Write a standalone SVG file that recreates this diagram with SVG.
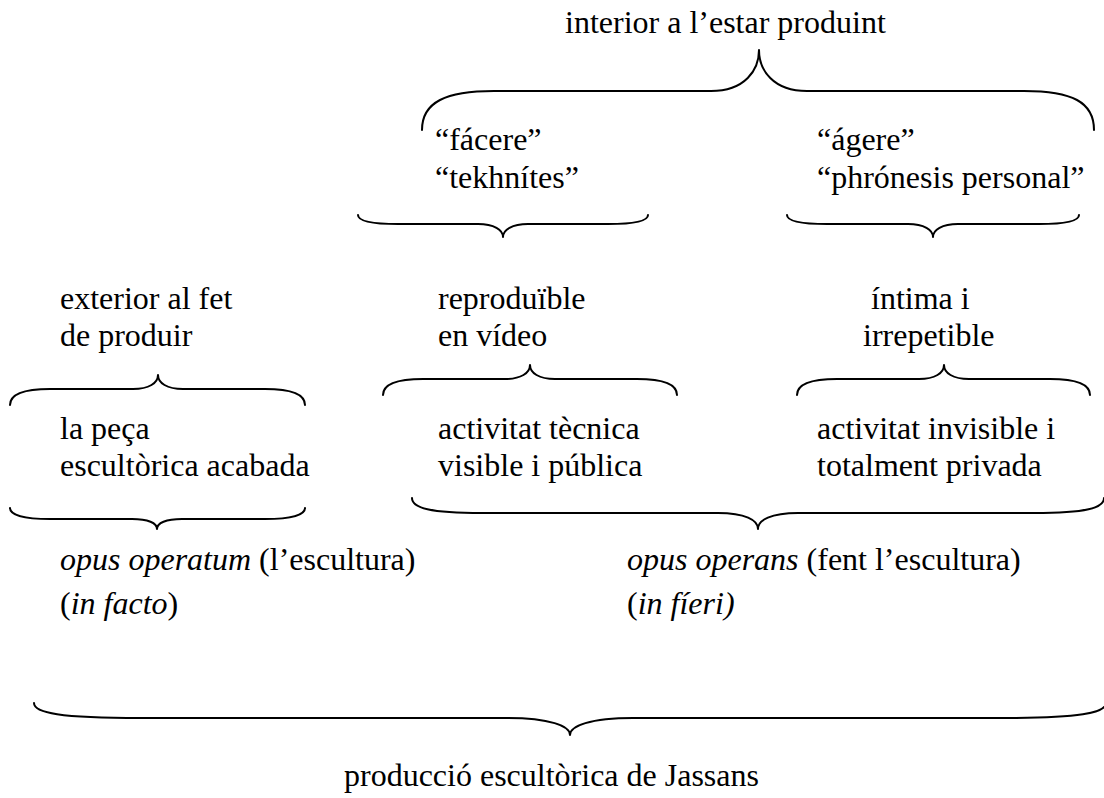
<svg xmlns="http://www.w3.org/2000/svg" width="1104" height="798" viewBox="0 0 1104 798">
<style>
.t{font-family:"Liberation Serif","Times New Roman",serif;font-size:32px;fill:#000}
.i{font-style:italic}
.b{fill:none;stroke:#000;stroke-width:2;stroke-linecap:round;stroke-linejoin:round}
</style>
<rect width="1104" height="798" fill="#fff"/>
<g id="connectors">
<path class="b" d="M422,130 C422,102 446,91 494,91 L711,91 C745,91 759,70 759,50 C759,70 773,91 807,91 L1024,91 C1072,91 1094,102 1094,130"/>
<path class="b" d="M358,215 C358,221 372,224 398,224 L478,224 C494,224 503,230 503,237 C503,230 512,224 528,224 L608,224 C634,224 648,221 648,215"/>
<path class="b" d="M787,215 C787,221 801,224 827,224 L908,224 C924,224 933,230 933,237 C933,230 942,224 958,224 L1039,224 C1065,224 1079,221 1079,215"/>
<path class="b" d="M10,405 C10,394 24,389 50,389 L133,389 C149,389 158,383 158,375 C158,383 167,389 183,389 L265,389 C291,389 305,394 305,405"/>
<path class="b" d="M383,395 C383,384 397,379 423,379 L505,379 C521,379 530,373 530,365 C530,373 539,379 555,379 L637,379 C663,379 677,384 677,395"/>
<path class="b" d="M797,395 C797,384 811,379 837,379 L919,379 C935,379 944,373 944,365 C944,373 953,379 969,379 L1050,379 C1076,379 1090,384 1090,395"/>
<path class="b" d="M10,508 C10,515 24,519 50,519 L132,519 C148,519 157,523 157,529 C157,523 166,519 182,519 L265,519 C291,519 305,515 305,508"/>
<path class="b" d="M412,498 C412,508 430,513 482,513 L718,513 C745,513 758,520 758,529 C758,520 771,513 798,513 L1034,513 C1086,513 1104,508 1104,498"/>
<path class="b" d="M34,703 C34,713 60,718 141,718 L507,718 C550,718 570,726 570,735 C570,726 590,718 633,718 L999,718 C1080,718 1106,713 1106,703"/>
</g>
<g id="n-interior"><text class="t" x="565" y="33">interior a l’estar produint</text></g>
<g id="n-facere"><text class="t" x="435" y="150">“fácere”</text><text class="t" x="435" y="188">“tekhnítes”</text></g>
<g id="n-agere"><text class="t" x="817" y="150">“ágere”</text><text class="t" x="817" y="188">“phrónesis personal”</text></g>
<g id="n-exterior"><text class="t" x="60" y="309">exterior al fet</text><text class="t" x="60" y="346">de produir</text></g>
<g id="n-reproduible"><text class="t" x="438" y="309">reproduïble</text><text class="t" x="438" y="346">en vídeo</text></g>
<g id="n-intima"><text class="t" x="871" y="309">íntima i</text><text class="t" x="863" y="346">irrepetible</text></g>
<g id="n-peca"><text class="t" x="60" y="439">la peça</text><text class="t" x="60" y="476">escultòrica acabada</text></g>
<g id="n-tecnica"><text class="t" x="438" y="439">activitat tècnica</text><text class="t" x="438" y="476">visible i pública</text></g>
<g id="n-invisible"><text class="t" x="817" y="439">activitat invisible i</text><text class="t" x="817" y="476">totalment privada</text></g>
<g id="n-operatum"><text class="t" x="60" y="570"><tspan class="i">opus operatum</tspan> (l’escultura)</text><text class="t" x="60" y="614">(<tspan class="i">in facto</tspan>)</text></g>
<g id="n-operans"><text class="t" x="627" y="570"><tspan class="i">opus operans</tspan> (fent l’escultura)</text><text class="t" x="627" y="614">(<tspan class="i">in fíeri)</tspan></text></g>
<g id="n-produccio"><text class="t" x="344" y="786">producció escultòrica de Jassans</text></g>
</svg>
